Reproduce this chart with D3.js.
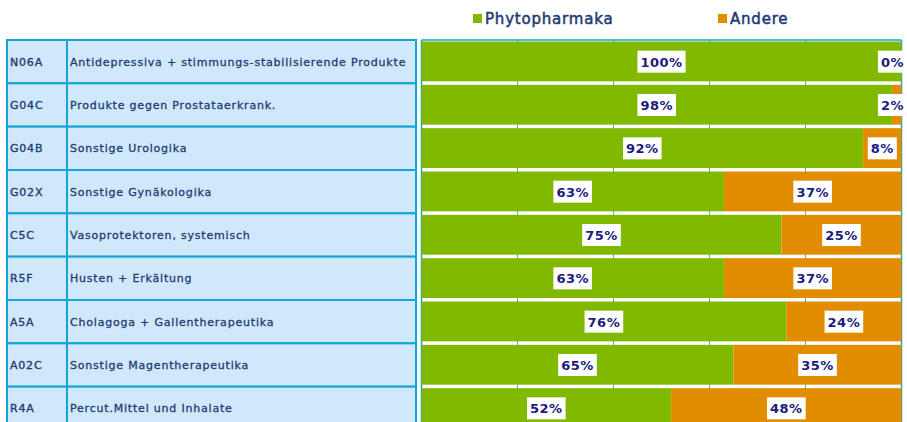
<!DOCTYPE html>
<html lang="de">
<head>
<meta charset="UTF-8" />
<title>Phytopharmaka</title>
<script src="https://cdn.jsdelivr.net/npm/d3@7"></script>
<style>
  body { margin: 0; background: #fff; }
  svg { display: block; font-family: "DejaVu Sans", Verdana, sans-serif; }
</style>
</head>
<body>
<script>
// data
var codes = ["N06A", "G04C", "G04B", "G02X", "C5C", "R5F", "A5A", "A02C", "R4A"];
var names = [
  "Antidepressiva + stimmungs-stabilisierende Produkte",
  "Produkte gegen Prostataerkrank.",
  "Sonstige Urologika",
  "Sonstige Gynäkologika",
  "Vasoprotektoren, systemisch",
  "Husten + Erkältung",
  "Cholagoga + Gallentherapeutika",
  "Sonstige Magentherapeutika",
  "Percut.Mittel und Inhalate"
];
var phyto = [100, 98, 92, 63, 75, 63, 76, 65, 52];
var andere = [0, 2, 8, 37, 25, 37, 24, 35, 48];
var seriesNames = ["Phytopharmaka", "Andere"];
var ticks = [0, 20, 40, 60, 80, 100];

var W = 907, H = 422;
var colors = { Phytopharmaka: "#7fba00", Andere: "#e28c00" };
var navy = "#1b1b80";
var textBlue = "#1f3b73";
var lineBlue = "#14a5d6";

var svg = d3.select("body").append("svg").attr("width", W).attr("height", H);

var y = d3.scaleBand().domain(codes).range([40, 430]);
var x = d3.scaleLinear().domain([0, 100]).range([421.5, 901.5]);

// table on the left
var table = svg.append("g");
var rows = table.selectAll("g.row").data(codes).enter().append("g").attr("class", "row");
rows.append("rect")
  .attr("x", 7).attr("y", function (d) { return y(d); })
  .attr("width", 409).attr("height", y.bandwidth())
  .attr("fill", "#cfe8fa").attr("stroke", lineBlue).attr("stroke-width", 2);
rows.append("line")
  .attr("x1", 67).attr("x2", 67)
  .attr("y1", function (d) { return y(d); })
  .attr("y2", function (d) { return y(d) + y.bandwidth(); })
  .attr("stroke", lineBlue).attr("stroke-width", 2);
rows.append("text")
  .attr("x", 10).attr("y", function (d) { return y(d) + y.bandwidth() / 2 + 4; })
  .attr("font-size", 11).attr("fill", textBlue).attr("letter-spacing", 0.8)
  .attr("stroke", textBlue).attr("stroke-width", 0.35)
  .text(function (d) { return d; });
rows.append("text")
  .attr("x", 70).attr("y", function (d) { return y(d) + y.bandwidth() / 2 + 4; })
  .attr("font-size", 11).attr("fill", textBlue).attr("letter-spacing", 0.8)
  .attr("stroke", textBlue).attr("stroke-width", 0.3)
  .text(function (d, i) { return names[i]; });

// gridlines + frame
svg.append("g").selectAll("line").data(ticks).enter().append("line")
  .attr("x1", function (d) { return x(d); }).attr("x2", function (d) { return x(d); })
  .attr("y1", 40).attr("y2", H)
  .attr("stroke", lineBlue).attr("stroke-width", function (d) { return d == 0 || d == 100 ? 1.5 : 1; })
  .attr("opacity", function (d) { return d == 0 || d == 100 ? 1 : 0.8; });
svg.append("line").attr("x1", x(0)).attr("x2", x(100)).attr("y1", 40).attr("y2", 40)
  .attr("stroke", lineBlue).attr("stroke-width", 1.5);

// stacked bars
var data = codes.map(function (c, i) { return { code: c, Phytopharmaka: phyto[i], Andere: andere[i] }; });
var stack = d3.stack().keys(seriesNames)(data);

var layers = svg.selectAll("g.layer").data(stack).enter().append("g").attr("class", "layer")
  .attr("fill", function (d) { return colors[d.key]; });
layers.selectAll("rect").data(function (d) { return d; }).enter().append("rect")
  .attr("x", function (d) { return x(d[0]); })
  .attr("width", function (d) { return x(d[1]) - x(d[0]); })
  .attr("y", function (d) { return y(d.data.code) + 1.5; })
  .attr("height", y.bandwidth() - 3.5);

// value labels
stack.forEach(function (layer) {
  layer.forEach(function (d) {
    var v = d[1] - d[0];
    var cx = (x(d[0]) + x(d[1])) / 2;
    var cy = y(d.data.code) + y.bandwidth() / 2;
    var g = svg.append("g");
    var t = g.append("text")
      .attr("y", cy + 5)
      .attr("text-anchor", "middle")
      .attr("font-size", 13).attr("font-weight", "bold")
      .attr("letter-spacing", 0.5)
      .attr("fill", navy)
      .text(v + "%");
    var w = t.node().getComputedTextLength() + 6;
    if (cx + w / 2 > W) cx = W - w / 2;
    t.attr("x", cx);
    g.insert("rect", "text")
      .attr("x", cx - w / 2).attr("y", cy - 11)
      .attr("width", w).attr("height", 22)
      .attr("fill", "#fff");
  });
});

// legend
var legendX = [473, 718];
var legend = svg.selectAll("g.legend").data(seriesNames).enter().append("g").attr("class", "legend")
  .attr("transform", function (d, i) { return "translate(" + legendX[i] + ",0)"; });
legend.append("rect").attr("x", 0).attr("y", 14).attr("width", 9).attr("height", 9)
  .attr("fill", function (d) { return colors[d]; });
legend.append("text").attr("x", 12).attr("y", 24)
  .attr("font-size", 15).attr("fill", textBlue).attr("letter-spacing", 0.8)
  .attr("stroke", textBlue).attr("stroke-width", 0.5)
  .text(function (d) { return d; });
</script>
</body>
</html>
